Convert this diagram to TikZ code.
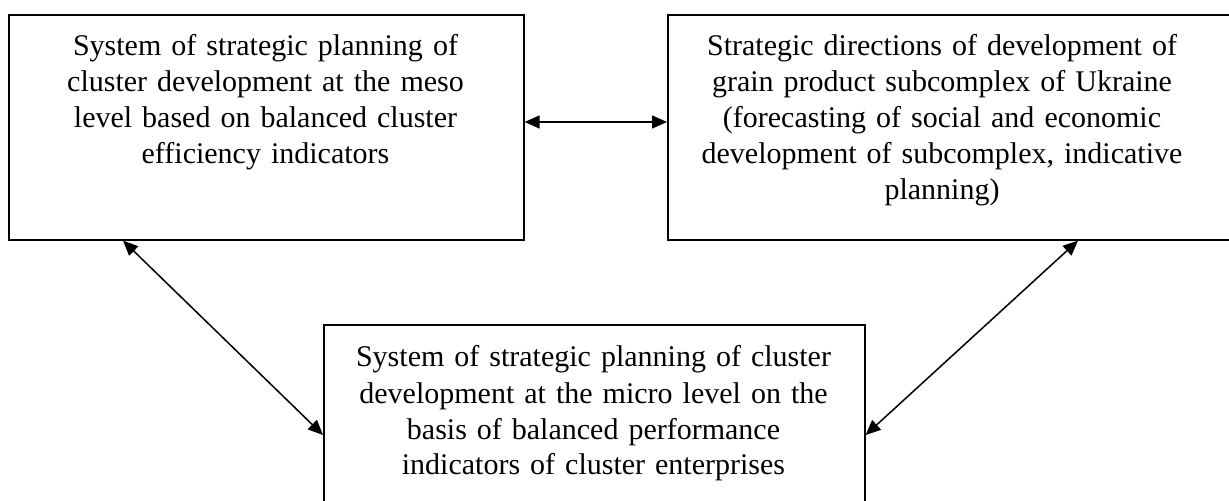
\documentclass[tikz,border=0pt]{standalone}
\usepackage{fontspec}
\setmainfont{Liberation Serif}
\usetikzlibrary{arrows.meta,calc}
\begin{document}
\begin{tikzpicture}[x=0.5pt,y=-0.5pt,
  box/.style={draw=black,line width=0.8pt,inner sep=0pt,anchor=north west},
  txt/.style={text width=290pt,align=center,inner sep=0pt,anchor=base,
    font=\fontsize{15}{18}\selectfont},
  arr/.style={line width=0.75pt,{Triangle[length=7.5pt,width=6.5pt]}-{Triangle[length=7.5pt,width=6.5pt]}}]
\clip (0,0) rectangle (1229,501);
\useasboundingbox (0,0) rectangle (1229,501);
\node[box,minimum width=300pt,minimum height=112.5pt] (b) at (667,14) {};
\node[box,minimum width=257.5pt,minimum height=112.5pt] (a) at (8,14) {};
\node[box,minimum width=270.5pt,minimum height=110pt] (c) at (323,324) {};
\node[txt] (ta) at (265.5,56) {System of strategic planning of\\cluster development at the meso\\level based on balanced cluster\\efficiency indicators};
\node[txt] (tb) at (942,56) {Strategic directions of development of\\grain product subcomplex of Ukraine\\(forecasting of social and economic\\development of subcomplex, indicative\\planning)};
\node[txt] (tc) at (593.5,367) {System of strategic planning of cluster\\development at the micro level on the\\basis of balanced performance\\indicators of cluster enterprises};
\draw[arr] (a.east |- 0,122) -- (b.west |- 0,122);
\draw[arr] ($(a.south west)+(115,0)$) -- ($(c.north west)+(0,111)$);
\draw[arr] ($(c.north east)+(0,111)$) -- ($(b.south west)+(411,0)$);
\end{tikzpicture}
\end{document}
